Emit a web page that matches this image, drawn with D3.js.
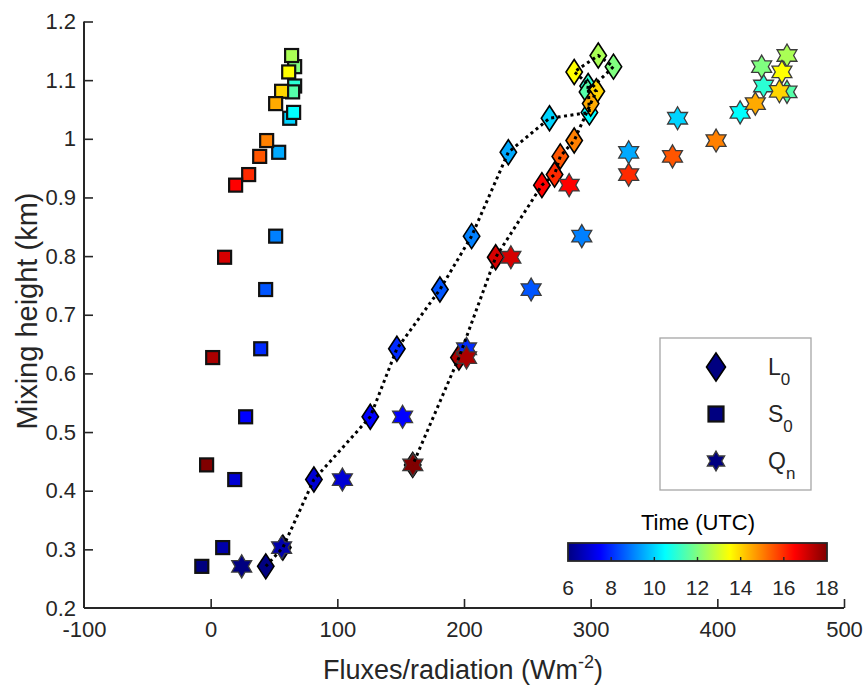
<!DOCTYPE html>
<html>
<head>
<meta charset="utf-8">
<script src="https://cdn.jsdelivr.net/npm/d3@7"></script>
<style>
  html, body { margin: 0; padding: 0; background: #fff; }
  svg { display: block; font-family: "Liberation Sans", Arial, Helvetica, sans-serif; }
</style>
</head>
<body>
<svg id="chart" width="867" height="687"></svg>
<script>
// ---- data ----
const times     = [6, 6.5, 7, 7.5, 8, 8.5, 9, 9.5, 10, 10.5, 11, 11.5, 12, 12.5, 13.5, 14, 14.5, 15, 15.5, 16, 16.5, 17, 17.5, 18];
const mixHeight = [0.271, 0.303, 0.419, 0.526, 0.642, 0.743, 0.834, 0.977, 1.035, 1.045, 1.090, 1.080, 1.123, 1.142, 1.114, 1.081, 1.060, 0.997, 0.970, 0.939, 0.921, 0.798, 0.627, 0.444];
const L0        = [43.5, 57, 81.5, 126, 147, 181, 206, 235, 267.5, 299, 298, 297.5, 318, 306, 287, 304.5, 300, 287, 276, 271.5, 261.5, 225, 196, 159.5];
const S0        = [-7, 9.5, 19, 27.6, 39.5, 43.4, 51.3, 53.7, 62.4, 65.5, 66.3, 64.7, 66.3, 63.9, 61.6, 56, 51.3, 44.2, 38.7, 30, 19.7, 11, 1.6, -3.2];
const Qn        = [24.5, 56, 104, 151.5, 202, 253, 293, 330, 368.6, 418, 436.5, 455, 435, 455, 451, 449, 430, 399, 364.6, 330, 283, 237, 202, 159.6];
const xTicks    = [-100, 0, 100, 200, 300, 400, 500];
const yTicks    = [0.2, 0.3, 0.4, 0.5, 0.6, 0.7, 0.8, 0.9, 1.0, 1.1, 1.2];
const cbTicks   = [6, 8, 10, 12, 14, 16, 18];
const legendLabels = [["L", "0"], ["S", "0"], ["Q", "n"]];

// ---- setup ----
const svg = d3.select("#chart");
const axisColor = "#262626";
const x = d3.scaleLinear().domain([-100, 500]).range([84, 844]);
const y = d3.scaleLinear().domain([0.2, 1.2]).range([608, 21.5]);

function jet(t) {
  const c = v => Math.max(0, Math.min(1, v));
  const r = c(1.5 - Math.abs(4 * t - 3));
  const g = c(1.5 - Math.abs(4 * t - 2));
  const b = c(1.5 - Math.abs(4 * t - 1));
  return d3.rgb(r * 255, g * 255, b * 255).formatHex();
}
const tScale = d3.scaleLinear().domain([6, 18]).range([0, 1]).clamp(true);
const color = t => jet(tScale(t));

const rows = times.map((t, i) => ({ t, h: mixHeight[i], L: L0[i], S: S0[i], Q: Qn[i] }));

// marker shapes
const diamondPath = (w, h) => `M0,${-h}L${w},0L0,${h}L${-w},0Z`;
function hexagramPath(R) {
  const r = R / Math.sqrt(3);
  const pts = [];
  for (let k = 0; k < 12; k++) {
    const a = -Math.PI / 2 + k * Math.PI / 6;
    const rr = k % 2 === 0 ? R : r;
    pts.push([rr * Math.cos(a), rr * Math.sin(a)]);
  }
  return "M" + pts.map(p => p[0].toFixed(2) + "," + p[1].toFixed(2)).join("L") + "Z";
}
const DIA = diamondPath(8.2, 12.5);
const STAR = hexagramPath(11.5);
const SQ = 13;

// ---- axes ----
const xAxis = d3.axisBottom(x).tickValues(xTicks).tickSize(-9).tickPadding(13).tickFormat(d => String(d));
const yAxis = d3.axisLeft(y).tickValues(yTicks).tickSize(-9).tickPadding(8).tickFormat(d => String(+d.toFixed(1)));

const gx = svg.append("g").attr("transform", "translate(0,608)").call(xAxis);
const gy = svg.append("g").attr("transform", "translate(84,0)").call(yAxis);
[gx, gy].forEach(g => {
  g.select(".domain").attr("stroke", axisColor).attr("stroke-width", 2);
  g.selectAll(".tick line").attr("stroke", axisColor).attr("stroke-width", 1.6);
  g.selectAll(".tick text").attr("fill", axisColor).attr("font-size", 22)
    .attr("font-family", "'Liberation Sans', Arial, sans-serif");
});
gx.select(".domain").attr("d", `M${x(-100)},0H${x(500)}`);
gy.select(".domain").attr("d", `M0,${y(0.2)}V${y(1.2)}`);
gx.selectAll(".tick line").filter(d => d === -100).remove();
gy.selectAll(".tick line").filter(d => d === 0.2).remove();

// axis titles
const xt = svg.append("text").attr("x", 463).attr("y", 679).attr("text-anchor", "middle")
  .attr("font-size", 27).attr("fill", axisColor);
xt.append("tspan").text("Fluxes/radiation (Wm");
xt.append("tspan").attr("font-size", 18).attr("dy", -11).text("-2");
xt.append("tspan").attr("dy", 11).text(")");

svg.append("text").attr("transform", "translate(37,311) rotate(-90)")
  .attr("text-anchor", "middle").attr("font-size", 29).attr("fill", axisColor)
  .text("Mixing height (km)");

// ---- marks ----
const plot = svg.append("g");
plot.selectAll("path.dia").data(rows).join("path").attr("class", "dia")
  .attr("d", DIA).attr("transform", d => `translate(${x(d.L)},${y(d.h)})`)
  .attr("fill", d => color(d.t)).attr("stroke", "#000").attr("stroke-width", 1.6);

plot.selectAll("rect.sq").data(rows).join("rect").attr("class", "sq")
  .attr("x", d => x(d.S) - SQ / 2).attr("y", d => y(d.h) - SQ / 2)
  .attr("width", SQ).attr("height", SQ)
  .attr("fill", d => color(d.t)).attr("stroke", "#111").attr("stroke-width", 2.2);

plot.selectAll("path.star").data(rows).join("path").attr("class", "star")
  .attr("d", STAR).attr("transform", d => `translate(${x(d.Q)},${y(d.h)})`)
  .attr("fill", d => color(d.t)).attr("stroke", "#3c3c3c").attr("stroke-width", 1.3);

const line = d3.line().x(d => x(d.L)).y(d => y(d.h));
plot.append("path").datum(rows).attr("d", line)
  .attr("fill", "none").attr("stroke", "#000").attr("stroke-width", 3)
  .attr("stroke-dasharray", "3,3.5");

// ---- legend ----
const lg = svg.append("g");
lg.append("rect").attr("x", 660).attr("y", 338).attr("width", 151).attr("height", 152)
  .attr("fill", "#fff").attr("stroke", "#a6a6a6").attr("stroke-width", 1.3);
const navy = jet(0);
const legendY = [367, 414, 461];
lg.append("path").attr("d", diamondPath(9.5, 14)).attr("transform", `translate(716,${legendY[0]})`)
  .attr("fill", navy).attr("stroke", "#000").attr("stroke-width", 1.6);
lg.append("rect").attr("x", 716 - 7.5).attr("y", legendY[1] - 7.5).attr("width", 15).attr("height", 15)
  .attr("fill", navy).attr("stroke", "#111").attr("stroke-width", 2.2);
lg.append("path").attr("d", hexagramPath(10)).attr("transform", `translate(716,${legendY[2]})`)
  .attr("fill", navy).attr("stroke", "#3c3c3c").attr("stroke-width", 1.3);
legendLabels.forEach((lab, i) => {
  const t = lg.append("text").attr("x", 768).attr("y", legendY[i] + 8).attr("font-size", 23).attr("fill", axisColor);
  t.append("tspan").text(lab[0]);
  t.append("tspan").attr("font-size", 17).attr("dy", 10).text(lab[1]);
});

// ---- colorbar ----
const cbX0 = 568, cbX1 = 827, cbY = 543, cbH = 18;
const defs = svg.append("defs");
const grad = defs.append("linearGradient").attr("id", "jetgrad").attr("x1", "0%").attr("x2", "100%");
d3.range(0, 1.0001, 1 / 48).forEach(t => grad.append("stop").attr("offset", (t * 100) + "%").attr("stop-color", jet(t)));
const cb = d3.scaleLinear().domain([6, 18]).range([cbX0, cbX1]);
svg.append("rect").attr("x", cbX0).attr("y", cbY).attr("width", cbX1 - cbX0).attr("height", cbH)
  .attr("fill", "url(#jetgrad)").attr("stroke", axisColor).attr("stroke-width", 1.8);
svg.append("g").selectAll("line").data(cbTicks.filter(d => d > 6 && d < 18)).join("line")
  .attr("x1", d => cb(d)).attr("x2", d => cb(d)).attr("y1", cbY + cbH).attr("y2", cbY + cbH - 4)
  .attr("stroke", axisColor).attr("stroke-width", 1.4);
svg.append("g").selectAll("text").data(cbTicks).join("text")
  .attr("x", d => cb(d)).attr("y", 595).attr("text-anchor", "middle")
  .attr("font-size", 21).attr("fill", axisColor).text(d => d);
svg.append("text").attr("x", 698).attr("y", 530).attr("text-anchor", "middle")
  .attr("font-size", 22).attr("fill", "#000").text("Time (UTC)");
</script>
</body>
</html>
